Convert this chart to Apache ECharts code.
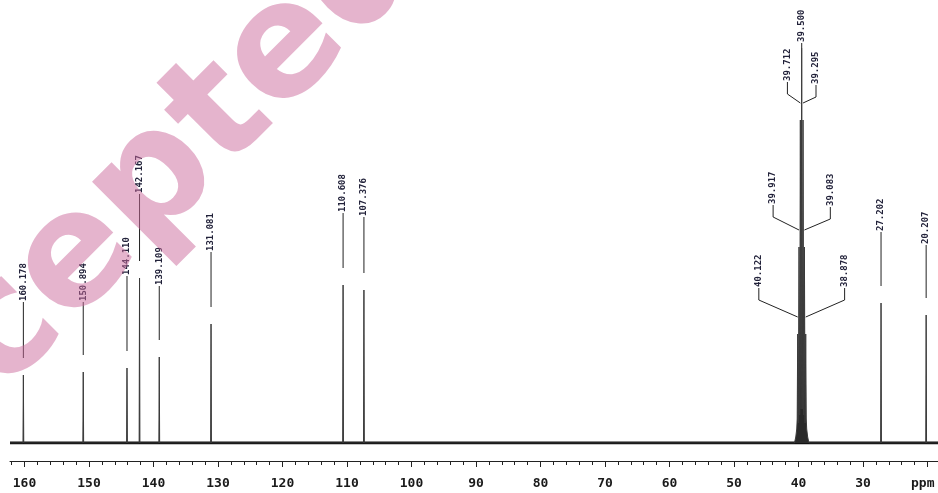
<!DOCTYPE html>
<html>
<head>
<meta charset="utf-8">
<script src="https://cdn.jsdelivr.net/npm/echarts@6/dist/echarts.min.js"></script>
<style>html,body{margin:0;padding:0;background:#fff}#c{width:938px;height:493px}</style>
</head>
<body>
<div id="c"></div>
<script>
// ---- data ----
const peakPpm = [160.178, 150.894, 144.110, 142.167, 139.109, 131.081, 110.608, 107.376,
                 40.122, 39.917, 39.712, 39.500, 39.295, 39.083, 38.878, 27.202, 20.207];
const peakHeight = [68, 71, 75, 165, 86, 119, 158, 153,
                    109, 196, 323, 395, 323, 196, 109, 140, 128];
const peakLabels = ["160.178", "150.894", "144.110", "142.167", "139.109", "131.081", "110.608", "107.376",
                    "40.122", "39.917", "39.712", "39.500", "39.295", "39.083", "38.878", "27.202", "20.207"];
// valley heights between the solvent multiplet lines (40.122 ... 38.878)
const multipletValleys = [20, 28, 34, 34, 28, 20];
const majorTicks = [160, 150, 140, 130, 120, 110, 100, 90, 80, 70, 60, 50, 40, 30, 20];
const tickLabels = [160, 150, 140, 130, 120, 110, 100, 90, 80, 70, 60, 50, 40, 30];
const minorTicks = [162, 158, 156, 154, 152, 148, 146, 144, 142, 138, 136, 134, 132, 128, 126, 124, 122,
                    118, 116, 114, 112, 108, 106, 104, 102, 98, 96, 94, 92, 88, 86, 84, 82, 78, 76, 74, 72,
                    68, 66, 64, 62, 58, 56, 54, 52, 48, 46, 44, 42, 38, 36, 34, 32, 28, 26, 24, 22];
const axisMin = 18.37, axisMax = 162.25;

// ---- label layout (px) ----
const leaderLen = [56, 53, 75, 67, 54, 55, 55, 56, 29, 25, 21, 5, 18, 23, 29, 54, 53];
const clusterSlot = [null, null, null, null, null, null, null, null, -3, -2, -1, 0, 1, 2, 3, null, null];

// ---- build spectrum polyline ----
const spectrum = [[axisMax, 0]];
const clusterStart = 8, clusterEnd = 14;
for (let i = 0; i < peakPpm.length; i++) {
  const p = peakPpm[i], h = peakHeight[i];
  if (i >= clusterStart && i <= clusterEnd) {
    if (i === clusterStart) spectrum.push([p + 0.5, 0], [p + 0.3, 6], [p + 0.15, 14], [p + 0.08, 24]);
    spectrum.push([p, h]);
    if (i < clusterEnd) {
      const a = peakPpm[i + 1];
      spectrum.push([(p + a) / 2, multipletValleys[i - clusterStart]]);
    } else {
      spectrum.push([p - 0.08, 24], [p - 0.15, 14], [p - 0.3, 6], [p - 0.5, 0]);
    }
  } else {
    spectrum.push([p + 0.06, 0], [p, h], [p - 0.06, 0]);
  }
}
spectrum.push([axisMin, 0]);

const labelData = peakPpm.map((p, i) => [p, peakHeight[i], i]);

const chart = echarts.init(document.getElementById('c'), null, {renderer: 'canvas'});
const monoFont = '"DejaVu Sans Mono", "Liberation Mono", monospace';

const baseX = {
  type: 'value', inverse: true, min: axisMin, max: axisMax,
  position: 'bottom', offset: 18,
  splitLine: {show: false}
};

chart.setOption({
  animation: false,
  backgroundColor: '#ffffff',
  grid: {left: 10, right: 0, top: 0, bottom: 50},
  xAxis: [
    Object.assign({}, baseX, {
      axisLine: {show: true, onZero: false, lineStyle: {color: '#222', width: 1}},
      axisTick: {show: true, length: 6, lineStyle: {color: '#222'}, customValues: majorTicks},
      axisLabel: {show: true, customValues: tickLabels, margin: 16,
        fontFamily: monoFont, fontSize: 13, fontWeight: 'bold', color: '#1a1a1a'}
    }),
    Object.assign({}, baseX, {
      axisLine: {show: false, onZero: false},
      axisTick: {show: true, length: 4, lineStyle: {color: '#222'}, customValues: minorTicks},
      axisLabel: {show: false}
    })
  ],
  yAxis: {type: 'value', min: 0, max: 443, show: false, splitLine: {show: false}},
  graphic: [
    {type: 'text', left: 911, top: 477, silent: true,
     style: {text: 'ppm', font: 'bold 13px "DejaVu Sans Mono", monospace', fill: '#1a1a1a'}},
    {type: 'text', x: 112, y: 226, rotation: Math.PI / 4, z: 100, silent: true,
     style: {text: 'Accepted', font: 'bold 158px "DejaVu Sans", sans-serif',
       fill: 'rgba(204,105,155,0.5)', align: 'center', verticalAlign: 'middle'}}
  ],
  series: [
    {
      type: 'line', name: 'baseline', xAxisIndex: 0, silent: true, symbol: 'none',
      data: [[axisMax, 0], [axisMin, 0]],
      lineStyle: {color: '#111', width: 3}, z: 2
    },
    {
      type: 'line', name: 'spectrum', xAxisIndex: 0, silent: true, symbol: 'none', sampling: null,
      data: spectrum,
      lineStyle: {color: '#3a3a3a', width: 1},
      areaStyle: {color: '#2a2a2a', opacity: 1, origin: 'start'},
      z: 3
    },
    {
      type: 'custom', name: 'labels', xAxisIndex: 0, silent: true,
      data: labelData,
      encode: {x: 0, y: 1},
      renderItem: function (params, api) {
        const i = api.value(2);
        const pt = api.coord([api.value(0), api.value(1)]);
        const px = pt[0], top = pt[1];
        const slot = clusterSlot[i];
        let lx = px, pts;
        let leaderEnd, textBottom;
        if (slot === null) {
          leaderEnd = top - 17;
          textBottom = leaderEnd - leaderLen[i];
          pts = [[lx, textBottom], [lx, leaderEnd]];
        } else {
          const cx = api.coord([39.5, 0])[0];
          lx = cx + slot * 14.3;
          leaderEnd = slot === 0 ? top : top - 17;
          textBottom = leaderEnd - leaderLen[i];
          pts = slot === 0 ? [[lx, textBottom], [px, leaderEnd]]
                           : [[lx, textBottom], [lx, textBottom + 12], [px, leaderEnd]];
        }
        return {
          type: 'group',
          children: [
            {type: 'polyline', shape: {points: pts},
             style: {stroke: '#222', lineWidth: 1, fill: null}},
            {type: 'text', x: lx, y: textBottom - 1, rotation: Math.PI / 2,
             style: {text: peakLabels[i], font: 'bold 9px "DejaVu Sans Mono", monospace',
               fill: '#22223a', align: 'left', verticalAlign: 'middle'}}
          ]
        };
      },
      z: 4
    }
  ]
});
</script>
</body>
</html>
